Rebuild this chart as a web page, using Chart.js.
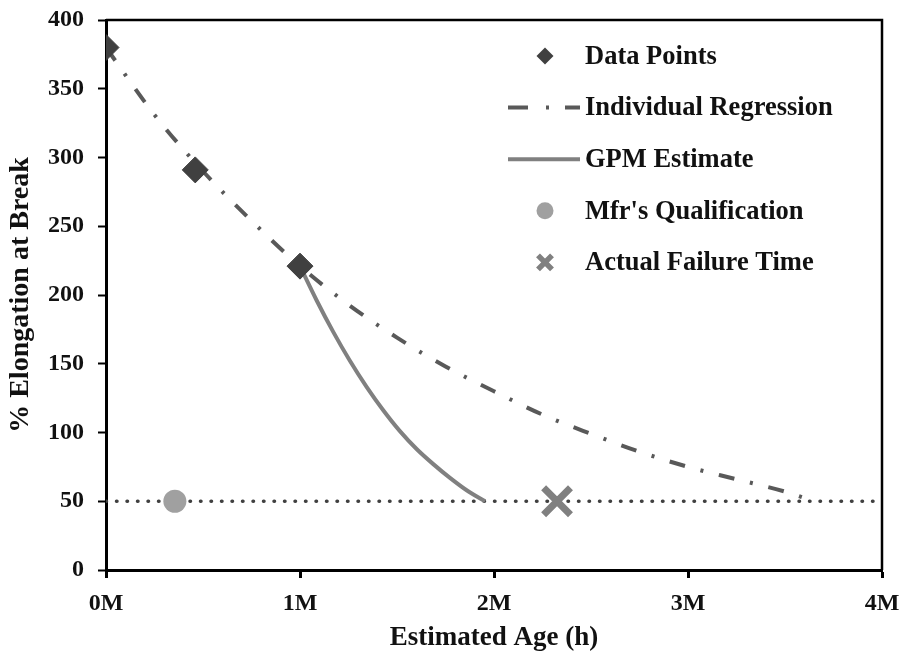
<!DOCTYPE html>
<html>
<head>
<meta charset="utf-8">
<script src="https://cdn.jsdelivr.net/npm/chart.js@4.4.1/dist/chart.umd.min.js"></script>
<style>
  html, body { margin: 0; padding: 0; background: #fff; }
  canvas { display: block; }
</style>
</head>
<body>
<canvas id="grafico" width="904" height="657"></canvas>
<script>
// valores (idade em horas, alongamento em %)
const pontosIdade = [0, 460000, 1000000];
const pontosAlong = [380, 291, 221];

const regIdade = [0, 250000, 500000, 750000, 1000000, 1250000, 1500000, 1750000, 2000000, 2250000, 2500000, 2750000, 3000000, 3250000, 3500000, 3650000];
const regAlong = [380, 331, 290, 254, 221, 193, 169, 148, 130, 113, 99, 86, 75, 66, 57, 50];

const gpmIdade = [1000000, 1086000, 1172000, 1258000, 1344000, 1430000, 1515000, 1601000, 1687000, 1773000, 1859000, 1954000];
const gpmAlong = [221, 196, 173, 152, 133, 116, 101, 88, 77, 67, 58, 50];

const qualIdade = [355000];
const qualAlong = [50];

const falhaIdade = [2325000];
const falhaAlong = [50];

const limiteIdade = [0, 4000000];
const limiteAlong = [50, 50];

const xTicks = [0, 1000000, 2000000, 3000000, 4000000];

const legendaTextos = ['Data Points', 'Individual Regression', 'GPM Estimate', "Mfr's Qualification", 'Actual Failure Time'];

const FONTE = "'Liberation Serif', 'Times New Roman', serif";

function pares(xs, ys) {
    return xs.map(function (x, i) { return { x: x, y: ys[i] }; });
}

// moldura superior e direita
const moldura = {
    id: 'moldura',
    afterDatasetsDraw: function (chart) {
        const a = chart.chartArea;
        const ctx = chart.ctx;
        ctx.save();
        ctx.strokeStyle = '#000';
        ctx.lineWidth = 2.5;
        ctx.beginPath();
        ctx.moveTo(a.left, a.top);
        ctx.lineTo(a.right, a.top);
        ctx.lineTo(a.right, a.bottom);
        ctx.stroke();
        ctx.restore();
    }
};

// legenda desenhada a mao, dentro da area do grafico
const legenda = {
    id: 'legenda',
    afterDraw: function (chart) {
        const ctx = chart.ctx;
        const mx = 545;
        const tx = 585;
        ctx.save();
        legendaTextos.forEach(function (txt, i) {
            const y = 56 + i * 51.6;
            ctx.save();
            if (i === 0) {
                ctx.fillStyle = '#404040';
                ctx.beginPath();
                ctx.moveTo(mx - 8.5, y);
                ctx.lineTo(mx, y - 8.5);
                ctx.lineTo(mx + 8.5, y);
                ctx.lineTo(mx, y + 8.5);
                ctx.closePath();
                ctx.fill();
            } else if (i === 1) {
                ctx.strokeStyle = '#595959';
                ctx.lineWidth = 4;
                ctx.setLineDash([20, 18, 3, 16]);
                ctx.beginPath();
                ctx.moveTo(508, y);
                ctx.lineTo(580, y);
                ctx.stroke();
            } else if (i === 2) {
                ctx.strokeStyle = '#808080';
                ctx.lineWidth = 4;
                ctx.beginPath();
                ctx.moveTo(508, y);
                ctx.lineTo(580, y);
                ctx.stroke();
            } else if (i === 3) {
                ctx.fillStyle = '#a0a0a0';
                ctx.beginPath();
                ctx.arc(mx, y, 8.5, 0, Math.PI * 2);
                ctx.fill();
            } else {
                ctx.strokeStyle = '#808080';
                ctx.lineWidth = 5.5;
                ctx.beginPath();
                ctx.moveTo(mx - 7, y - 7);
                ctx.lineTo(mx + 7, y + 7);
                ctx.moveTo(mx + 7, y - 7);
                ctx.lineTo(mx - 7, y + 7);
                ctx.stroke();
            }
            ctx.restore();
            ctx.fillStyle = '#111';
            ctx.font = 'bold 26.5px ' + FONTE;
            ctx.textAlign = 'left';
            ctx.textBaseline = 'middle';
            ctx.fillText(txt, tx, y + 1);
        });
        ctx.restore();
    }
};

const ctx = document.getElementById('grafico').getContext('2d');
new Chart(ctx, {
    type: 'scatter',
    data: {
        datasets: [
            {
                label: 'Data Points',
                data: pares(pontosIdade, pontosAlong),
                pointStyle: 'rectRot',
                pointRadius: 13,
                pointBackgroundColor: '#404040',
                pointBorderColor: '#404040',
                pointBorderWidth: 1,
                showLine: false
            },
            {
                label: "Mfr's Qualification",
                data: pares(qualIdade, qualAlong),
                pointStyle: 'circle',
                pointRadius: 11.5,
                pointBackgroundColor: '#a0a0a0',
                pointBorderColor: '#a0a0a0',
                pointBorderWidth: 0,
                showLine: false
            },
            {
                label: 'Actual Failure Time',
                data: pares(falhaIdade, falhaAlong),
                pointStyle: 'crossRot',
                pointRadius: 19,
                pointBorderColor: '#808080',
                pointBorderWidth: 7,
                showLine: false
            },
            {
                label: 'GPM Estimate',
                data: pares(gpmIdade, gpmAlong),
                showLine: true,
                borderColor: '#808080',
                borderWidth: 4,
                cubicInterpolationMode: 'monotone',
                pointRadius: 0
            },
            {
                label: 'Individual Regression',
                data: pares(regIdade, regAlong),
                showLine: true,
                borderColor: '#595959',
                borderWidth: 4,
                borderDash: [16, 16, 3, 16],
                cubicInterpolationMode: 'monotone',
                pointRadius: 0
            },
            {
                label: 'Limite',
                data: pares(limiteIdade, limiteAlong),
                showLine: true,
                borderColor: '#404040',
                borderWidth: 3.5,
                borderDash: [0.5, 10],
                borderCapStyle: 'round',
                pointRadius: 0
            }
        ]
    },
    options: {
        responsive: false,
        animation: false,
        layout: { autoPadding: false, padding: { left: 4, right: 22, top: 20, bottom: 0 } },
        plugins: {
            legend: { display: false },
            tooltip: { enabled: false }
        },
        scales: {
            x: {
                type: 'linear',
                min: 0,
                max: 4000000,
                afterFit: function (scale) {
                    scale.height = 87;
                    scale.paddingLeft = 0;
                    scale.paddingRight = 0;
                },
                afterBuildTicks: function (scale) {
                    scale.ticks = xTicks.map(function (v) { return { value: v }; });
                },
                ticks: {
                    color: '#111',
                    font: { family: FONTE, size: 24, weight: 'bold' },
                    padding: 11,
                    maxRotation: 0,
                    callback: function (v) { return (v / 1000000) + 'M'; }
                },
                grid: {
                    drawOnChartArea: false,
                    drawTicks: true,
                    tickLength: 8,
                    tickWidth: 3,
                    tickColor: '#000'
                },
                border: { color: '#000', width: 3 },
                title: {
                    display: true,
                    text: 'Estimated Age (h)',
                    color: '#111',
                    font: { family: FONTE, size: 27, weight: 'bold' },
                    padding: { top: 4, bottom: 3 }
                }
            },
            y: {
                min: 0,
                max: 400,
                afterFit: function (scale) {
                    scale.width = 102;
                    scale.paddingTop = 0;
                    scale.paddingBottom = 0;
                },
                ticks: {
                    stepSize: 50,
                    color: '#111',
                    font: { family: FONTE, size: 24, weight: 'bold' },
                    padding: 14
                },
                grid: {
                    drawOnChartArea: false,
                    drawTicks: true,
                    tickLength: 8,
                    tickWidth: 2,
                    tickColor: '#000'
                },
                border: { color: '#000', width: 3 },
                title: {
                    display: true,
                    text: '% Elongation at Break',
                    color: '#111',
                    font: { family: FONTE, size: 28, weight: 'bold' },
                    padding: { top: 0, bottom: 0 }
                }
            }
        }
    },
    plugins: [moldura, legenda]
});
</script>
</body>
</html>
